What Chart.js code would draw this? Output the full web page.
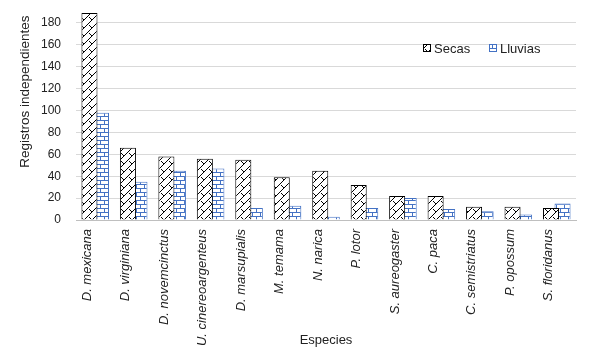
<!DOCTYPE html>
<html>
<head>
<meta charset="utf-8">
<script src="https://cdn.jsdelivr.net/npm/chart.js@4.4.1/dist/chart.umd.min.js"></script>
<style>
    body { margin: 0; background: #fff; }
    #wrap { width: 590px; height: 348px; }
</style>
</head>
<body>
<div id="wrap"><canvas id="chart" width="590" height="348"></canvas></div>
<script>
// Data
const species = ['D. mexicana', 'D. virginiana', 'D. novemcinctus', 'U. cinereoargenteus',
    'D. marsupialis', 'M. temama', 'N. narica', 'P. lotor', 'S. aureogaster',
    'C. paca', 'C. semistriatus', 'P. opossum', 'S. floridanus'];
const secas = [189, 66, 58, 56, 55, 39, 45, 32, 22, 22, 12, 12, 11];
const lluvias = [98, 35, 45, 47, 11, 13, 3, 11, 20, 10, 8, 5, 15];
const yTicks = [0, 20, 40, 60, 80, 100, 120, 140, 160, 180];

const FONT = '"Liberation Sans", Arial, sans-serif';
const BLUE = '#4472C4';

// Diagonal brick hatch (Secas)
function diagBrick() {
    const c = document.createElement('canvas');
    c.width = 8; c.height = 8;
    const g = c.getContext('2d');
    g.fillStyle = '#fff';
    g.fillRect(0, 0, 8, 8);
    g.strokeStyle = '#000';
    g.lineWidth = 1;
    g.beginPath();
    g.moveTo(-1, 9); g.lineTo(9, -1);
    g.moveTo(1, 1); g.lineTo(4, 4);
    g.stroke();
    return g.createPattern(c, 'repeat');
}

// Horizontal brick hatch (Lluvias)
function brick() {
    const c = document.createElement('canvas');
    c.width = 8; c.height = 8;
    const g = c.getContext('2d');
    g.fillStyle = '#fff';
    g.fillRect(0, 0, 8, 8);
    g.fillStyle = BLUE;
    g.fillRect(0, 0, 8, 1);
    g.fillRect(0, 4, 8, 1);
    g.fillRect(0, 0, 1, 4);
    g.fillRect(4, 4, 1, 4);
    return g.createPattern(c, 'repeat');
}

const secasFill = diagBrick();
const lluviasFill = brick();

// Legend drawn inside the plot, top right
const seasonLegend = {
    id: 'seasonLegend',
    afterDraw(chart) {
        const ctx = chart.ctx;
        const items = [
            { x: 423, label: 'Secas', ds: chart.data.datasets[0] },
            { x: 489, label: 'Lluvias', ds: chart.data.datasets[1] }
        ];
        ctx.save();
        ctx.font = '13px ' + FONT;
        ctx.textBaseline = 'middle';
        items.forEach(it => {
            ctx.fillStyle = it.ds.backgroundColor;
            ctx.fillRect(it.x, 44, 8, 8);
            ctx.strokeStyle = it.ds.borderColor;
            ctx.lineWidth = 1;
            ctx.strokeRect(it.x + 0.5, 44.5, 7, 7);
            ctx.fillStyle = '#222';
            ctx.fillText(it.label, it.x + 11, 49);
        });
        ctx.restore();
    }
};

new Chart(document.getElementById('chart'), {
    type: 'bar',
    data: {
        labels: species,
        datasets: [
            {
                label: 'Secas',
                data: secas,
                backgroundColor: secasFill,
                borderColor: '#000',
                borderWidth: 1,
                categoryPercentage: 0.6,
                barPercentage: 1.39
            },
            {
                label: 'Lluvias',
                data: lluvias,
                backgroundColor: lluviasFill,
                borderColor: BLUE,
                borderWidth: 1,
                categoryPercentage: 0.6,
                barPercentage: 1.39
            }
        ]
    },
    options: {
        responsive: false,
        animation: false,
        layout: { padding: { top: 12, right: 14, left: 0, bottom: 0 } },
        plugins: {
            legend: { display: false },
            tooltip: { enabled: false }
        },
        scales: {
            x: {
                grid: { display: false, drawTicks: false },
                border: { display: true, color: '#bfbfbf' },
                ticks: {
                    autoSkip: false,
                    minRotation: 90,
                    maxRotation: 90,
                    padding: 9,
                    labelOffset: -8,
                    color: '#222',
                    font: { family: FONT, size: 13, style: 'italic' }
                },
                title: {
                    display: true,
                    text: 'Especies',
                    color: '#222',
                    font: { family: FONT, size: 13 },
                    padding: { top: 2, bottom: 0 }
                },
                afterFit(scale) { scale.height = 128; }
            },
            y: {
                min: 0,
                max: 190,
                grid: { color: '#d9d9d9', drawTicks: false },
                border: { display: false },
                ticks: {
                    padding: 15,
                    color: '#222',
                    font: { family: FONT, size: 12 }
                },
                afterBuildTicks(scale) {
                    scale.ticks = yTicks.map(v => ({ value: v }));
                },
                title: {
                    display: true,
                    text: '             Registros independientes',
                    color: '#222',
                    font: { family: FONT, size: 13.5 },
                    padding: { top: 17, bottom: 0 }
                },
                afterFit(scale) {
                    scale.width = 76;
                    scale.paddingTop = 0;
                    scale.paddingBottom = 0;
                }
            }
        }
    },
    plugins: [seasonLegend]
});
</script>
</body>
</html>
